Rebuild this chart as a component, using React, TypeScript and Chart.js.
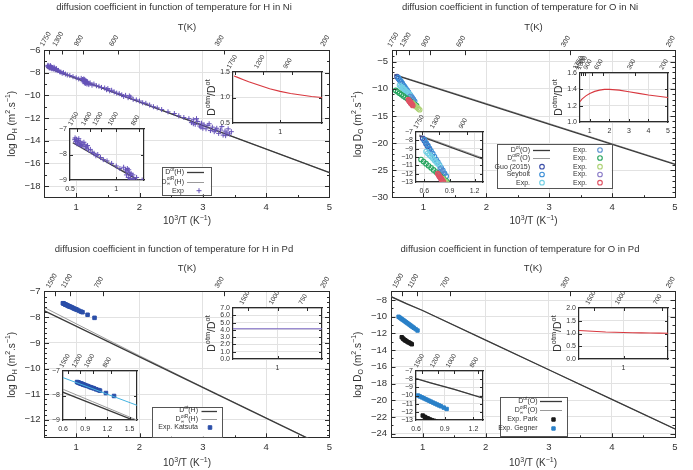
import React, { useEffect, useRef } from 'react';
import { Chart, registerables } from 'chart.js';

Chart.register(...registerables);

const FAMILY = '"Liberation Sans", Arial, Helvetica, sans-serif';
const INK = '#333333';
const FRAME = '#2b2b2b';
const GRID = '#e2e2e2';
Chart.defaults.font.family = FAMILY;
Chart.defaults.color = INK;

// ---------- temperature labels of the top axes (K) ----------
const NI_TEMPS = [1750, 1300, 900, 600, 300, 200];
const PD_TEMPS = [1500, 1100, 700, 300, 200];

// ---------- H in Ni ----------
const niH_dot_x = [0.53, 5];
const niH_dot = [-7.54, -16.8];
const niH_dotR_x = [0.53, 0.56, 0.7, 0.85, 1.0, 1.2, 1.4, 5];
const niH_dotR = [-7.38, -7.45, -7.78, -8.14, -8.47, -8.91, -9.34, -16.8];
const niH_exp_x = [
  0.55, 0.56, 0.57, 0.58, 0.59, 0.6, 0.61, 0.62, 0.63, 0.64,
  0.66, 0.67, 0.68, 0.7, 0.72, 0.74, 0.76, 0.78, 0.8, 0.83, 0.86, 0.9, 0.95,
  1.0, 1.04, 1.08, 1.1, 1.11, 1.12, 1.13, 1.14, 1.15, 1.16, 1.17, 1.18, 1.2, 1.22, 1.25, 1.28, 1.32, 1.36, 1.4, 1.45, 1.48,
  1.5, 1.53, 1.56, 1.6, 1.64, 1.68, 1.72, 1.75, 1.78, 1.82, 1.86, 1.9, 1.95,
  2.0, 2.05, 2.1, 2.16, 2.22, 2.28, 2.35, 2.45, 2.55, 2.62, 2.7, 2.78,
  2.82, 2.85, 2.88, 2.92, 2.95, 2.98,
  3.0, 3.02, 3.05, 3.08, 3.12, 3.15, 3.18, 3.22, 3.25, 3.28, 3.32, 3.35, 3.38, 3.42,
  0.555, 0.575, 0.595, 0.615, 0.65, 0.69, 1.115, 1.135, 1.155, 1.19, 1.84,
  2.85, 2.9, 2.97, 3.1, 3.2, 3.3, 3.36, 3.4, 3.45,
];
const niH_exp_y = [
  -7.42, -7.5, -7.4, -7.55, -7.45, -7.6, -7.5, -7.62, -7.55, -7.68,
  -7.6, -7.75, -7.7, -7.82, -7.8, -7.92, -7.95, -8.05, -8.0, -8.12, -8.2, -8.25, -8.35,
  -8.45, -8.55, -8.5, -8.6, -8.8, -8.55, -8.9, -8.7, -8.95, -8.75, -9.0, -8.8, -9.05, -8.9, -9.1, -9.0, -9.15, -9.2, -9.3, -9.35, -9.5,
  -9.4, -9.6, -9.55, -9.7, -9.8, -9.85, -9.95, -10.1, -10.0, -10.2, -10.15, -10.35, -10.4,
  -10.5, -10.65, -10.7, -10.85, -11.0, -11.1, -11.25, -11.45, -11.6, -11.8, -11.95, -12.05,
  -12.4, -12.15, -12.55, -12.3, -12.7, -12.45,
  -12.9, -12.6, -12.95, -12.65, -13.1, -12.8, -13.2, -12.9, -13.35, -13.05, -13.5, -13.15, -13.3, -13.4,
  -7.35, -7.58, -7.38, -7.65, -7.52, -7.65, -8.65, -8.6, -8.82, -8.95, -10.05,
  -12.5, -12.05, -12.8, -12.5, -13.05, -12.75, -13.55, -12.95, -13.2,
];
const niH_ratio_x = [0.56, 0.6, 0.65, 0.7, 0.8, 0.9, 1.0, 1.1, 1.2, 1.3, 1.4];
const niH_ratio = [1.42, 1.39, 1.35, 1.31, 1.24, 1.17, 1.12, 1.08, 1.05, 1.02, 1.0];

// ---------- O in Ni ----------
const niO_dot_x = [0.54, 5];
const niO_dot = [-7.46, -23.9];
const niO_dotR_x = [0.54, 1, 2, 3, 4, 5];
const niO_dotR = [-7.36, -9.03, -12.69, -16.39, -20.09, -23.79];
const niO_guo_x = [0.58, 0.6, 0.62, 0.64, 0.66];
const niO_guo = [-7.75, -8.05, -8.4, -8.7, -9.05];
const niO_seybolt_x = [0.6, 0.62, 0.64, 0.66, 0.68, 0.7, 0.72, 0.74, 0.76, 0.78, 0.8, 0.82, 0.84, 0.86];
const niO_seybolt = [-7.95, -8.3, -8.6, -8.95, -9.3, -9.6, -9.95, -10.3, -10.6, -10.95, -11.3, -11.6, -11.95, -12.3];
const niO_expCyan_x = [0.62, 0.64, 0.66, 0.68, 0.7, 0.72, 0.74, 0.76, 0.78];
const niO_expCyan = [-9.35, -9.55, -9.75, -9.95, -10.15, -10.4, -10.6, -10.8, -11.0];
const niO_expBlue_x = [0.79, 0.81, 0.83];
const niO_expBlue = [-11.45, -11.75, -12.05];
const niO_expGreen_x = [0.56, 0.59, 0.62, 0.65, 0.68, 0.71, 0.74, 0.77, 0.8, 0.83, 0.86, 0.89];
const niO_expGreen = [-10.3, -10.55, -10.8, -11.05, -11.3, -11.55, -11.8, -12.05, -12.35, -12.6, -12.85, -13.1];
const niO_expLime_x = [0.82, 0.84, 0.86, 0.88, 0.9, 0.92, 0.94];
const niO_expLime = [-12.6, -12.85, -13.05, -13.25, -13.45, -13.65, -13.85];
const niO_expPurple_x = [0.78, 0.8];
const niO_expPurple = [-12.35, -12.65];
const niO_expRed_x = [0.76, 0.77, 0.78, 0.79, 0.8, 0.81, 0.82, 0.83];
const niO_expRed = [-12.0, -12.15, -12.3, -12.45, -12.6, -12.75, -12.9, -13.05];
const niO_ratio_x = [0.5, 0.6, 0.8, 1.0, 1.25, 1.5, 1.75, 2.0, 2.5, 3, 3.5, 4, 4.5, 5];
const niO_ratio = [1.25, 1.28, 1.32, 1.35, 1.375, 1.39, 1.4, 1.4, 1.39, 1.37, 1.35, 1.33, 1.315, 1.3];

// ---------- H in Pd ----------
const pdH_dot_x = [0.5, 5];
const pdH_dot = [-7.75, -13.13];
const pdH_dotR_x = [0.5, 1, 1.5, 2, 3, 5];
const pdH_dotR = [-7.62, -8.25, -8.88, -9.5, -10.72, -13.12];
const pdH_katsuta_x = [0.79, 0.8, 0.81, 0.82, 0.83, 0.84, 0.85, 0.86, 0.87, 0.88, 0.89, 0.9, 0.92, 0.94, 0.96, 0.98, 1.0, 1.02, 1.05, 1.08, 1.1, 1.18, 1.29];
const pdH_katsuta = [-7.45, -7.46, -7.47, -7.49, -7.5, -7.51, -7.52, -7.53, -7.55, -7.56, -7.57, -7.58, -7.6, -7.62, -7.65, -7.67, -7.69, -7.71, -7.75, -7.78, -7.8, -7.9, -8.02];
const pdH_fit_x = [0.6, 1.6];
const pdH_fit = [-7.27, -8.4];
const pdH_ratio_x = [0.5, 1.5];
const pdH_ratio = [4.15, 4.15];

// ---------- O in Pd ----------
const pdO_dot_x = [0.5, 0.75, 1, 2, 3, 4, 5];
const pdO_dot = [-7.6, -8.45, -9.25, -12.8, -16.35, -19.9, -23.45];
const pdO_dotR = [-7.56, -8.42, -9.24, -12.8, -16.35, -19.9, -23.45];
const pdO_gegner_x = [0.62, 0.64, 0.66, 0.68, 0.7, 0.72, 0.74, 0.76, 0.78, 0.8, 0.82, 0.84, 0.86, 0.89, 0.92];
const pdO_gegner = [-10.0, -10.11, -10.22, -10.33, -10.44, -10.55, -10.66, -10.77, -10.88, -10.99, -11.1, -11.21, -11.32, -11.48, -11.65];
const pdO_park_x = [0.67, 0.69, 0.7, 0.72, 0.73, 0.75, 0.77, 0.79, 0.81, 0.83];
const pdO_park = [-12.45, -12.6, -12.7, -12.8, -12.85, -12.95, -13.05, -13.1, -13.2, -13.3];
const pdO_ratio_x = [0.5, 0.6, 0.7, 0.8, 0.9, 1.0, 1.1, 1.2, 1.3, 1.4, 1.5];
const pdO_ratio = [1.12, 1.1, 1.08, 1.06, 1.05, 1.04, 1.03, 1.025, 1.02, 1.015, 1.01];

// ---------- types ----------
type Seg = { t?: string; s?: 'sup' | 'sub'; sup?: string; sub?: string };
type Series = {
  label: string; x: number[]; y: number[]; color: string;
  width?: number; point?: 'cross' | 'circle' | 'rect'; radius?: number; fill?: string; pw?: number; under?: boolean;
};
type TextItem = { segs: Seg[]; x: number; y: number; size: number; rot?: boolean };
type LegendRow = { series: number; segs: Seg[]; y: number; tx: number; lx0: number; lx1: number; mx: number };
type Spec = {
  left: number; top: number; w: number; h: number;
  area: [number, number, number, number];
  xr: [number, number]; yr: [number, number];
  xt: number[]; yt: number[];
  xfmt: (v: number) => string; yfmt: (v: number) => string;
  xMinor?: number; yMinor?: number;
  temps: number[];
  series: Series[];
  inset: boolean;
  texts: TextItem[];
  legend?: { box: [number, number, number, number]; size: number; rows: LegendRow[] };
};

// ---------- formatting ----------
const minus = (s: string) => s.replace('-', '\u2212');
const fmtInt = (v: number) => minus(String(Math.round(v)));
const fmt1 = (v: number) => minus(v.toFixed(1));
const fmtNum = (v: number) => minus(String(v));

// ---------- series styles ----------
const lineDot = (x: number[], y: number[]): Series => ({ label: 'Dot', x, y, color: '#3a3a3a', width: 1.3 });
const lineDotR = (x: number[], y: number[]): Series => ({ label: 'DotR', x, y, color: '#9a9a9a', width: 1, under: true });
const ring = (label: string, x: number[], y: number[], color: string): Series => ({
  label, x, y, color, point: 'circle', radius: 2.3, fill: 'rgba(0,0,0,0)', pw: 1.1,
});

const niH_series: Series[] = [
  lineDot(niH_dot_x, niH_dot),
  lineDotR(niH_dotR_x, niH_dotR),
  { label: 'Exp', x: niH_exp_x, y: niH_exp_y, color: '#6552b8', point: 'cross', radius: 2.5, pw: 1 },
];
const niO_series: Series[] = [
  lineDot(niO_dot_x, niO_dot),
  lineDotR(niO_dotR_x, niO_dotR),
  ring('Guo (2015)', niO_guo_x, niO_guo, '#3c4fa8'),
  ring('Seybolt', niO_seybolt_x, niO_seybolt, '#3b8ed6'),
  ring('Exp.', niO_expCyan_x, niO_expCyan, '#72d0e4'),
  ring('Exp.', niO_expBlue_x, niO_expBlue, '#5a8fd0'),
  ring('Exp.', niO_expGreen_x, niO_expGreen, '#27a55f'),
  ring('Exp.', niO_expLime_x, niO_expLime, '#aed276'),
  ring('Exp.', niO_expPurple_x, niO_expPurple, '#8b7cc8'),
  ring('Exp.', niO_expRed_x, niO_expRed, '#e05263'),
];
const pdH_series: Series[] = [
  lineDot(pdH_dot_x, pdH_dot),
  lineDotR(pdH_dotR_x, pdH_dotR),
  { label: 'Exp. Katsuta', x: pdH_katsuta_x, y: pdH_katsuta, color: '#2b4ea8', point: 'rect', radius: 2.5 },
];
const pdH_fitSeries: Series = { label: 'fit', x: pdH_fit_x, y: pdH_fit, color: '#45b3e0', width: 1 };
const pdO_series: Series[] = [
  lineDot(pdO_dot_x, pdO_dot),
  lineDotR(pdO_dot_x, pdO_dotR),
  { label: 'Exp. Park', x: pdO_park_x, y: pdO_park, color: '#1a1a1a', point: 'rect', radius: 2.4 },
  { label: 'Exp. Gegner', x: pdO_gegner_x, y: pdO_gegner, color: '#2a80c8', point: 'rect', radius: 2.4 },
];
const ratioLine = (x: number[], y: number[], color = '#d8383f'): Series => ({ label: 'ratio', x, y, color, width: 1.1 });

// ---------- rich labels ----------
const X_TITLE: Seg[] = [{ t: '10' }, { t: '3', s: 'sup' }, { t: '/T (K' }, { t: '\u22121', s: 'sup' }, { t: ')' }];
const yTitle = (e: string): Seg[] => [
  { t: 'log D' }, { t: e, s: 'sub' }, { t: ' (m' }, { t: '2', s: 'sup' }, { t: '.s' }, { t: '\u22121', s: 'sup' }, { t: ')' },
];
const RATIO_TITLE: Seg[] = [{ t: 'D' }, { t: 'otm', s: 'sup' }, { t: '/D' }, { t: 'ot', s: 'sup' }];
const dotLabel = (e: string): Seg[] => [{ t: 'D' }, { t: 'ot', s: 'sup' }, { t: `(${e})` }];
const dotRLabel = (e: string): Seg[] => [{ t: 'D' }, { sup: 'otR', sub: '\u221e' }, { t: `(${e})` }];
const plain = (t: string): Seg[] => [{ t }];

const fontOf = (px: number) => `${px}px ${FAMILY}`;

function measureRich(ctx: CanvasRenderingContext2D, segs: Seg[], size: number) {
  let w = 0;
  for (const sg of segs) {
    if (sg.sup !== undefined || sg.sub !== undefined) {
      ctx.font = fontOf(size * 0.7);
      w += Math.max(ctx.measureText(sg.sup || '').width, ctx.measureText(sg.sub || '').width);
    } else {
      ctx.font = fontOf(sg.s ? size * 0.7 : size);
      w += ctx.measureText(sg.t || '').width;
    }
  }
  return w;
}

function drawRich(ctx: CanvasRenderingContext2D, segs: Seg[], x: number, y: number, size: number, align: 'left' | 'center' | 'right') {
  const w = measureRich(ctx, segs, size);
  let cx = align === 'left' ? x : align === 'right' ? x - w : x - w / 2;
  ctx.textAlign = 'left';
  ctx.textBaseline = 'middle';
  for (const sg of segs) {
    if (sg.sup !== undefined || sg.sub !== undefined) {
      ctx.font = fontOf(size * 0.7);
      ctx.fillText(sg.sup || '', cx, y - size * 0.38);
      ctx.fillText(sg.sub || '', cx, y + size * 0.32);
      cx += Math.max(ctx.measureText(sg.sup || '').width, ctx.measureText(sg.sub || '').width);
    } else if (sg.s === 'sup') {
      ctx.font = fontOf(size * 0.7);
      ctx.fillText(sg.t || '', cx, y - size * 0.38);
      cx += ctx.measureText(sg.t || '').width;
    } else if (sg.s === 'sub') {
      ctx.font = fontOf(size * 0.7);
      ctx.fillText(sg.t || '', cx, y + size * 0.28);
      cx += ctx.measureText(sg.t || '').width;
    } else {
      ctx.font = fontOf(size);
      ctx.fillText(sg.t || '', cx, y);
      cx += ctx.measureText(sg.t || '').width;
    }
  }
}

function drawMark(ctx: CanvasRenderingContext2D, ser: Series, x: number, y: number) {
  const r = ser.radius ?? 2.5;
  ctx.save();
  ctx.strokeStyle = ser.color;
  ctx.fillStyle = ser.fill ?? ser.color;
  ctx.lineWidth = ser.pw ?? 1;
  ctx.beginPath();
  if (ser.point === 'cross') {
    ctx.moveTo(x - r, y); ctx.lineTo(x + r, y);
    ctx.moveTo(x, y - r); ctx.lineTo(x, y + r);
    ctx.stroke();
  } else if (ser.point === 'rect') {
    const hs = r * Math.SQRT1_2;
    ctx.rect(x - hs, y - hs, 2 * hs, 2 * hs);
    ctx.fill(); ctx.stroke();
  } else {
    ctx.arc(x, y, r, 0, Math.PI * 2);
    ctx.fill(); ctx.stroke();
  }
  ctx.restore();
}

function minorValues(range: [number, number], step: number, majors: number[]) {
  const out: number[] = [];
  const start = Math.ceil(range[0] / step - 1e-9);
  for (let k = start; k * step <= range[1] + 1e-9; k++) {
    const v = k * step;
    if (!majors.some((m) => Math.abs(m - v) < 1e-6)) out.push(v);
  }
  return out;
}

// ---------- plugins ----------
function backPlugin() {
  return {
    id: 'plotBack',
    beforeDraw(chart: any) {
      const a = chart.chartArea;
      const ctx = chart.ctx;
      ctx.save();
      ctx.fillStyle = '#ffffff';
      ctx.fillRect(a.left, a.top, a.right - a.left, a.bottom - a.top);
      ctx.restore();
    },
  };
}

function ticksPlugin(s: Spec) {
  return {
    id: 'inwardTicks',
    afterDraw(chart: any) {
      const { ctx, chartArea: a, scales } = chart;
      const X = scales.x, Y = scales.y;
      const M = s.inset ? 3 : 4.5;
      const m = 2.5;
      const near = (p: number, e: number) => Math.abs(p - e) < 1.2;
      ctx.save();
      ctx.strokeStyle = FRAME;
      ctx.lineWidth = 1;
      ctx.beginPath();
      const vTick = (v: number, len: number, atTop: boolean) => {
        const p = X.getPixelForValue(v);
        if (near(p, a.left) || near(p, a.right) || p < a.left || p > a.right) return;
        const px = Math.round(p) + 0.5;
        if (atTop) { ctx.moveTo(px, a.top); ctx.lineTo(px, a.top + len); }
        else { ctx.moveTo(px, a.bottom); ctx.lineTo(px, a.bottom - len); }
      };
      const hTick = (v: number, len: number) => {
        const p = Y.getPixelForValue(v);
        if (near(p, a.top) || near(p, a.bottom)) return;
        const py = Math.round(p) + 0.5;
        ctx.moveTo(a.left, py); ctx.lineTo(a.left + len, py);
        ctx.moveTo(a.right, py); ctx.lineTo(a.right - len, py);
      };
      s.xt.forEach((v) => vTick(v, M, false));
      if (s.xMinor) minorValues(s.xr, s.xMinor, s.xt).forEach((v) => vTick(v, m, false));
      s.temps.forEach((T) => vTick(1000 / T, M, true));
      s.yt.forEach((v) => hTick(v, M));
      if (s.yMinor) minorValues(s.yr, s.yMinor, s.yt).forEach((v) => hTick(v, m));
      ctx.stroke();
      ctx.restore();
    },
  };
}

function textPlugin(s: Spec) {
  return {
    id: 'richTexts',
    afterDraw(chart: any) {
      const ctx = chart.ctx;
      ctx.save();
      ctx.fillStyle = INK;
      for (const it of s.texts) {
        if (it.rot) {
          ctx.save();
          ctx.translate(it.x, it.y);
          ctx.rotate(-Math.PI / 2);
          drawRich(ctx, it.segs, 0, 0, it.size, 'center');
          ctx.restore();
        } else {
          drawRich(ctx, it.segs, it.x, it.y, it.size, 'center');
        }
      }
      ctx.restore();
    },
  };
}

function keyPlugin(s: Spec) {
  return {
    id: 'keyBox',
    afterDraw(chart: any) {
      if (!s.legend) return;
      const ctx = chart.ctx;
      const [x0, y0, x1, y1] = s.legend.box;
      ctx.save();
      ctx.fillStyle = '#ffffff';
      ctx.fillRect(x0, y0, x1 - x0, y1 - y0);
      ctx.strokeStyle = '#555555';
      ctx.lineWidth = 1;
      ctx.strokeRect(Math.round(x0) + 0.5, Math.round(y0) + 0.5, Math.round(x1 - x0), Math.round(y1 - y0));
      for (const row of s.legend.rows) {
        const ser = s.series[row.series];
        ctx.fillStyle = INK;
        drawRich(ctx, row.segs, row.tx, row.y, s.legend.size, 'right');
        if (ser.point) {
          drawMark(ctx, ser, row.mx, row.y);
        } else {
          ctx.strokeStyle = ser.color;
          ctx.lineWidth = ser.width ?? 1;
          ctx.beginPath();
          ctx.moveTo(row.lx0, Math.round(row.y) + 0.5);
          ctx.lineTo(row.lx1, Math.round(row.y) + 0.5);
          ctx.stroke();
        }
      }
      ctx.restore();
    },
  };
}

// ---------- chart factory ----------
function buildChart(canvas: HTMLCanvasElement, s: Spec) {
  const [l, t, r, b] = s.area;
  const n = s.series.length;
  const datasets = s.series.map((ser, i) => {
    const isLine = !ser.point;
    return {
      label: ser.label,
      data: ser.x.map((x, k) => ({ x, y: ser.y[k] })),
      // higher order is painted first; the D_otR curve sits beneath D_ot, marks on top
      order: ser.under ? n + 1 : n - i,
      showLine: isLine,
      borderColor: ser.color,
      borderWidth: isLine ? ser.width ?? 1 : ser.pw ?? 1,
      backgroundColor: ser.fill ?? ser.color,
      pointRadius: isLine ? 0 : ser.radius ?? 2.5,
      pointStyle: ser.point ?? 'circle',
      pointBorderColor: ser.color,
      pointBackgroundColor: ser.fill ?? ser.color,
      pointBorderWidth: ser.pw ?? 1,
      tension: 0,
      clip: 0,
    };
  });
  const tickFont = { family: FAMILY, size: s.inset ? 7 : 9.5 };
  const topFont = { family: FAMILY, size: s.inset ? 6.5 : 7 };
  const topVals = s.temps.map((T) => 1000 / T);
  const border = { display: true, color: FRAME, width: s.inset ? 1.2 : 1 };

  return new Chart(canvas, {
    type: 'scatter',
    data: { datasets } as any,
    options: {
      responsive: false,
      animation: false,
      events: [],
      devicePixelRatio: 1,
      layout: { padding: { left: 0, top: 0, right: s.w - r, bottom: 0 } },
      plugins: { legend: { display: false }, tooltip: { enabled: false }, title: { display: false } },
      scales: {
        x: {
          type: 'linear', position: 'bottom', min: s.xr[0], max: s.xr[1],
          afterBuildTicks: (sc: any) => { sc.ticks = s.xt.map((v) => ({ value: v })); },
          afterFit: (sc: any) => { sc.height = s.h - b; },
          ticks: {
            autoSkip: false, minRotation: 0, maxRotation: 0, padding: s.inset ? 5 : 4,
            color: INK, font: tickFont, callback: (v: any) => s.xfmt(Number(v)),
          },
          grid: { color: GRID, drawTicks: false, lineWidth: 1 },
          border,
        },
        x2: {
          type: 'linear', position: 'top', min: s.xr[0], max: s.xr[1],
          afterBuildTicks: (sc: any) => { sc.ticks = topVals.map((v) => ({ value: v })); },
          afterFit: (sc: any) => { sc.height = t; },
          ticks: {
            autoSkip: false, minRotation: 60, maxRotation: 60, padding: 2,
            color: INK, font: topFont, callback: (_v: any, i: number) => String(s.temps[i]),
          },
          grid: { display: false, drawTicks: false },
          border,
        },
        y: {
          type: 'linear', position: 'left', min: s.yr[0], max: s.yr[1],
          afterBuildTicks: (sc: any) => { sc.ticks = s.yt.map((v) => ({ value: v })); },
          afterFit: (sc: any) => { sc.width = l; },
          ticks: {
            autoSkip: false, padding: s.inset ? 3 : 4,
            color: INK, font: tickFont, callback: (v: any) => s.yfmt(Number(v)),
          },
          grid: { color: GRID, drawTicks: false, lineWidth: 1 },
          border,
        },
        y2: {
          type: 'linear', position: 'right', min: s.yr[0], max: s.yr[1],
          afterFit: (sc: any) => { sc.width = 0; },
          ticks: { display: false },
          grid: { display: false, drawTicks: false },
          border,
        },
      },
    } as any,
    plugins: [s.inset ? backPlugin() : { id: 'noop' }, ticksPlugin(s), keyPlugin(s), textPlugin(s)] as any,
  });
}

// ---------- panel layouts ----------
type MainCfg = {
  ox: number; oy: number; w: number; area: [number, number, number, number];
  yr: [number, number]; yt: number[]; yMinor: number; temps: number[]; series: Series[];
  name: string; elem: string; titleY: number; tkY: number; xtY: number;
  legend: Spec['legend'];
};
function mainPanel(c: MainCfg): Spec {
  const [l, t, r, b] = c.area;
  return {
    left: c.ox, top: c.oy, w: c.w, h: 235, area: c.area,
    xr: [0.5, 5], yr: c.yr, xt: [1, 2, 3, 4, 5], yt: c.yt,
    xfmt: fmtInt, yfmt: fmtInt, xMinor: 0.5, yMinor: c.yMinor,
    temps: c.temps, series: c.series, inset: false,
    texts: [
      { segs: plain(c.name), x: 174, y: c.titleY, size: 9.5 },
      { segs: plain('T(K)'), x: (l + r) / 2, y: c.tkY, size: 9.5 },
      { segs: X_TITLE, x: (l + r) / 2, y: c.xtY, size: 10 },
      { segs: yTitle(c.elem), x: 12, y: (t + b) / 2, size: 10, rot: true },
    ],
    legend: c.legend,
  };
}

const ML = 34, MT = 24, MR = 12, MB = 16;
type InsetCfg = {
  px: number; py: number; pw: number; ph: number;
  xr: [number, number]; yr: [number, number]; xt: number[]; yt: number[];
  xfmt: (v: number) => string; yfmt: (v: number) => string;
  temps: number[]; series: Series[]; ratio?: boolean;
};
function insetPanel(c: InsetCfg): Spec {
  return {
    left: c.px - ML, top: c.py - MT, w: c.pw + ML + MR, h: c.ph + MT + MB,
    area: [ML, MT, ML + c.pw, MT + c.ph],
    xr: c.xr, yr: c.yr, xt: c.xt, yt: c.yt, xfmt: c.xfmt, yfmt: c.yfmt,
    temps: c.temps, series: c.series, inset: true,
    texts: c.ratio ? [{ segs: RATIO_TITLE, x: ML - 21, y: MT + c.ph / 2, size: 10.5, rot: true }] : [],
  };
}

const LEG = 7;
const SPECS: Spec[] = [
  mainPanel({
    ox: 0, oy: 0, w: 346, area: [44.5, 50, 329.5, 197.5],
    yr: [-19, -6], yt: [-18, -16, -14, -12, -10, -8, -6], yMinor: 1, temps: NI_TEMPS, series: niH_series,
    name: 'diffusion coefficient in function of temperature for H in Ni', elem: 'H',
    titleY: 7.5, tkY: 27.5, xtY: 221.5,
    legend: {
      box: [161.7, 166.7, 210.7, 194.3], size: LEG,
      rows: [
        { series: 0, segs: dotLabel('H'), y: 172.3, tx: 184, lx0: 187, lx1: 204, mx: 199 },
        { series: 1, segs: dotRLabel('H'), y: 181.7, tx: 184, lx0: 187, lx1: 204, mx: 199 },
        { series: 2, segs: plain('Exp'), y: 190.7, tx: 184, lx0: 187, lx1: 204, mx: 199 },
      ],
    },
  }),
  mainPanel({
    ox: 346, oy: 0, w: 347, area: [46, 50.7, 329, 197.7],
    yr: [-30, -3], yt: [-30, -25, -20, -15, -10, -5], yMinor: 1, temps: NI_TEMPS, series: niO_series,
    name: 'diffusion coefficient in function of temperature for O in Ni', elem: 'O',
    titleY: 7.5, tkY: 27.5, xtY: 221.5,
    legend: {
      box: [150.7, 144, 265.7, 188.3], size: LEG,
      rows: [
        { series: 0, segs: dotLabel('O'), y: 150, tx: 184, lx0: 187, lx1: 204, mx: 196 },
        { series: 1, segs: dotRLabel('O'), y: 158, tx: 184, lx0: 187, lx1: 204, mx: 196 },
        { series: 2, segs: plain('Guo (2015)'), y: 166.7, tx: 184, lx0: 187, lx1: 204, mx: 196 },
        { series: 3, segs: plain('Seybolt'), y: 174.5, tx: 184, lx0: 187, lx1: 204, mx: 196 },
        { series: 4, segs: plain('Exp.'), y: 182.7, tx: 184, lx0: 187, lx1: 204, mx: 196 },
        { series: 5, segs: plain('Exp.'), y: 150, tx: 241, lx0: 246, lx1: 262, mx: 254 },
        { series: 6, segs: plain('Exp.'), y: 158, tx: 241, lx0: 246, lx1: 262, mx: 254 },
        { series: 7, segs: plain('Exp.'), y: 166.7, tx: 241, lx0: 246, lx1: 262, mx: 254 },
        { series: 8, segs: plain('Exp.'), y: 174.5, tx: 241, lx0: 246, lx1: 262, mx: 254 },
        { series: 9, segs: plain('Exp.'), y: 182.7, tx: 241, lx0: 246, lx1: 262, mx: 254 },
      ],
    },
  }),
  mainPanel({
    ox: 0, oy: 235, w: 346, area: [44.5, 56.7, 329.5, 202.8],
    yr: [-12.7, -7], yt: [-12, -11, -10, -9, -8, -7], yMinor: 0.2, temps: PD_TEMPS, series: pdH_series,
    name: 'diffusion coefficient in function of temperature for H in Pd', elem: 'H',
    titleY: 14.5, tkY: 33, xtY: 228.5,
    legend: {
      box: [151.7, 171.7, 221.7, 201.7], size: LEG,
      rows: [
        { series: 0, segs: dotLabel('H'), y: 175.5, tx: 198, lx0: 201.5, lx1: 217, mx: 210 },
        { series: 1, segs: dotRLabel('H'), y: 184, tx: 198, lx0: 201.5, lx1: 217, mx: 210 },
        { series: 2, segs: plain('Exp. Katsuta'), y: 192.5, tx: 198, lx0: 201.5, lx1: 217, mx: 210 },
      ],
    },
  }),
  mainPanel({
    ox: 346, oy: 235, w: 347, area: [45, 56.7, 329, 202.8],
    yr: [-24.5, -7], yt: [-24, -22, -20, -18, -16, -14, -12, -10, -8], yMinor: 1, temps: PD_TEMPS, series: pdO_series,
    name: 'diffusion coefficient in function of temperature for O in Pd', elem: 'O',
    titleY: 14.5, tkY: 33, xtY: 228.5,
    legend: {
      box: [154, 162.3, 220.7, 201], size: LEG,
      rows: [
        { series: 0, segs: dotLabel('O'), y: 166, tx: 191.5, lx0: 194, lx1: 216, mx: 207.5 },
        { series: 1, segs: dotRLabel('O'), y: 175, tx: 191.5, lx0: 194, lx1: 216, mx: 207.5 },
        { series: 2, segs: plain('Exp. Park'), y: 184.5, tx: 191.5, lx0: 194, lx1: 216, mx: 207.5 },
        { series: 3, segs: plain('Exp. Gegner'), y: 193.5, tx: 191.5, lx0: 194, lx1: 216, mx: 207.5 },
      ],
    },
  }),
  // insets, H in Ni
  insetPanel({
    px: 70, py: 129, pw: 74, ph: 51, xr: [0.5, 1.3], yr: [-9, -7], xt: [0.5, 1], yt: [-9, -8, -7],
    xfmt: fmtNum, yfmt: fmtInt, temps: [1750, 1400, 1200, 1000, 800], series: niH_series,
  }),
  insetPanel({
    px: 233, py: 72, pw: 89, ph: 51, xr: [0.55, 1.4], yr: [0.5, 1.5], xt: [1], yt: [0.5, 1.0, 1.5],
    xfmt: fmtNum, yfmt: fmt1, temps: [1750, 1200, 900], series: [ratioLine(niH_ratio_x, niH_ratio)], ratio: true,
  }),
  // insets, O in Ni
  insetPanel({
    px: 416, py: 132, pw: 67, ph: 50, xr: [0.5, 1.3], yr: [-13, -7], xt: [0.6, 0.9, 1.2],
    yt: [-13, -12, -11, -10, -9, -8, -7], xfmt: fmtNum, yfmt: fmtInt, temps: [1750, 1300, 900], series: niO_series,
  }),
  insetPanel({
    px: 580, py: 73, pw: 88, ph: 49, xr: [0.5, 5], yr: [1.0, 1.6], xt: [1, 2, 3, 4, 5], yt: [1.0, 1.2, 1.4, 1.6],
    xfmt: fmtNum, yfmt: fmt1, temps: [1750, 1500, 1300, 900, 600, 300, 200],
    series: [ratioLine(niO_ratio_x, niO_ratio)], ratio: true,
  }),
  // insets, H in Pd
  insetPanel({
    px: 63, py: 371, pw: 74, ph: 49, xr: [0.6, 1.6], yr: [-9, -7], xt: [0.6, 0.9, 1.2, 1.5], yt: [-9, -8, -7],
    xfmt: fmtNum, yfmt: fmtInt, temps: [1500, 1200, 1000, 800], series: [...pdH_series, pdH_fitSeries],
  }),
  insetPanel({
    px: 233, py: 308, pw: 89, ph: 51, xr: [0.5, 1.5], yr: [0, 7], xt: [1], yt: [0, 1, 2, 3, 4, 5, 6, 7],
    xfmt: fmtNum, yfmt: fmt1, temps: [1500, 1000, 750],
    series: [ratioLine(pdH_ratio_x, pdH_ratio, '#7a66c2')], ratio: true,
  }),
  // insets, O in Pd
  insetPanel({
    px: 416, py: 371, pw: 67, ph: 49, xr: [0.6, 1.3], yr: [-13, -7], xt: [0.6, 0.9, 1.2],
    yt: [-13, -12, -11, -10, -9, -8, -7], xfmt: fmtNum, yfmt: fmtInt, temps: [1500, 1200, 1000, 800], series: pdO_series,
  }),
  insetPanel({
    px: 579, py: 308, pw: 89, ph: 51, xr: [0.5, 1.5], yr: [0, 2], xt: [1], yt: [0, 0.5, 1, 1.5, 2],
    xfmt: fmtNum, yfmt: fmt1, temps: [1500, 1000, 700], series: [ratioLine(pdO_ratio_x, pdO_ratio)], ratio: true,
  }),
];

function ChartCanvas({ spec }: { spec: Spec }) {
  const ref = useRef<HTMLCanvasElement>(null);
  useEffect(() => {
    if (!ref.current) return;
    const chart = buildChart(ref.current, spec);
    return () => chart.destroy();
  }, [spec]);
  return (
    <canvas
      ref={ref}
      width={spec.w}
      height={spec.h}
      style={{ position: 'absolute', left: spec.left, top: spec.top, width: spec.w, height: spec.h }}
    />
  );
}

export default function App() {
  return (
    <div style={{ position: 'fixed', left: 0, top: 0, width: 693, height: 470, background: '#ffffff', overflow: 'hidden' }}>
      {SPECS.map((s, i) => (
        <ChartCanvas key={i} spec={s} />
      ))}
    </div>
  );
}
